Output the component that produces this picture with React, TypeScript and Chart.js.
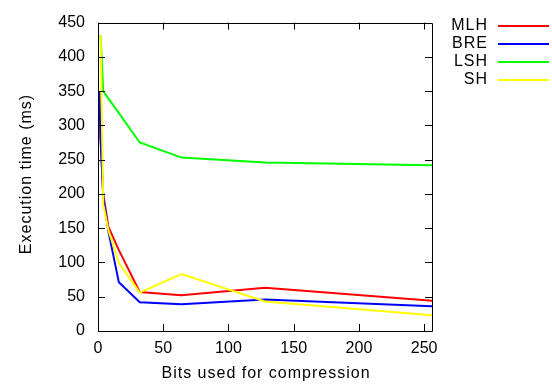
import React, { useEffect, useRef } from "react";
import { Chart, registerables } from "chart.js";

Chart.register(...registerables);

const bits = [1, 2, 4, 8, 16, 32, 64, 128, 256];
const seriesNames = ["MLH", "BRE", "LSH", "SH"];
const seriesColors = ["#ff0000", "#0000ff", "#00ff00", "#ffff00"];
const mlh = [350, 280, 200, 152, 118, 57, 52, 63, 44];
const bre = [350, 280, 195, 145, 71, 42, 39, 46, 36];
const lsh = [430, 430, 350, 339, 318, 275, 253, 246, 242];
const sh = [430, 430, 185, 147, 99, 56, 83, 43, 23];
const xTicks = [0, 50, 100, 150, 200, 250];
const yTicks = [0, 50, 100, 150, 200, 250, 300, 350, 400, 450];
const xTitle = "Bits used for compression";
const yTitle = "Execution time (ms)";

const FONT = "Liberation Sans, Arial, Helvetica, sans-serif";

const framePlugin = {
  id: "frame",
  afterDatasetsDraw(chart: any) {
    const { ctx, chartArea } = chart;
    const { left, right, top, bottom } = chartArea;
    const xs = chart.scales.x;
    const ys = chart.scales.y;
    ctx.save();
    ctx.strokeStyle = "#000";
    ctx.lineWidth = 1;
    ctx.beginPath();
    ctx.rect(Math.round(left) + 0.5, Math.round(top) + 0.5, Math.round(right - left), Math.round(bottom - top));
    ctx.stroke();
    const L = 7;
    ctx.beginPath();
    xTicks.forEach((v) => {
      const px = Math.round(xs.getPixelForValue(v)) + 0.5;
      ctx.moveTo(px, bottom);
      ctx.lineTo(px, bottom - L);
      ctx.moveTo(px, top);
      ctx.lineTo(px, top + L);
    });
    yTicks.forEach((v) => {
      const py = Math.round(ys.getPixelForValue(v)) + 0.5;
      ctx.moveTo(left, py);
      ctx.lineTo(left + L, py);
      ctx.moveTo(right, py);
      ctx.lineTo(right - L, py);
    });
    ctx.stroke();
    ctx.restore();
  },
  afterDraw(chart: any) {
    const { ctx, chartArea } = chart;
    ctx.save();
    ctx.font = `16px ${FONT}`;
    try {
      (ctx as any).letterSpacing = "1px";
    } catch (e) {}
    ctx.fillStyle = "#000";
    ctx.textBaseline = "middle";
    // axis titles
    ctx.textAlign = "center";
    ctx.fillText(xTitle, (chartArea.left + chartArea.right) / 2 + 1, 374);
    ctx.save();
    ctx.translate(27, 174);
    ctx.rotate(-Math.PI / 2);
    ctx.fillText(yTitle, 0, 0);
    ctx.restore();
    // legend
    ctx.textAlign = "right";
    const ys0 = [26, 43.5, 61.5, 79.5];
    seriesNames.forEach((name, i) => {
      const y = ys0[i];
      ctx.fillStyle = "#000";
      ctx.fillText(name, 488, y);
      ctx.strokeStyle = seriesColors[i];
      ctx.lineWidth = 2;
      ctx.beginPath();
      ctx.moveTo(498, Math.round(y));
      ctx.lineTo(549, Math.round(y));
      ctx.stroke();
    });
    ctx.restore();
  },
};

export default function App() {
  const ref = useRef<HTMLCanvasElement>(null);
  useEffect(() => {
    if (!ref.current) return;
    const all = [mlh, bre, lsh, sh];
    const chart = new Chart(ref.current, {
      type: "line",
      data: {
        datasets: all.map((vals, i) => ({
          label: seriesNames[i],
          data: bits.map((b, j) => ({ x: b, y: vals[j] })),
          borderColor: seriesColors[i],
          backgroundColor: seriesColors[i],
          borderWidth: 2,
          pointRadius: 0,
          tension: 0,
          fill: false,
          order: 3 - i,
        })),
      },
      options: {
        animation: false,
        responsive: false,
        maintainAspectRatio: false,
        layout: { padding: { top: 17, right: 120, left: 0, bottom: 0 } },
        plugins: { legend: { display: false }, tooltip: { enabled: false } },
        scales: {
          x: {
            type: "linear",
            min: 0,
            max: 256,
            grid: { display: false, drawTicks: false },
            border: { display: false },
            afterBuildTicks: (s: any) => {
              s.ticks = xTicks.map((v) => ({ value: v }));
            },
            afterFit: (s: any) => {
              s.height = 56;
            },
            ticks: { color: "#000", font: { family: FONT, size: 16 }, padding: 8, maxRotation: 0, autoSkip: false },
          },
          y: {
            type: "linear",
            min: 0,
            max: 450,
            grid: { display: false, drawTicks: false },
            border: { display: false },
            afterBuildTicks: (s: any) => {
              s.ticks = yTicks.map((v) => ({ value: v }));
            },
            afterFit: (s: any) => {
              s.width = 98;
            },
            ticks: { color: "#000", font: { family: FONT, size: 16 }, padding: 13, autoSkip: false },
          },
        },
      },
      plugins: [framePlugin],
    });
    return () => chart.destroy();
  }, []);
  return (
    <div style={{ position: "absolute", left: 0, top: 0, width: 552, height: 387, background: "#fff" }}>
      <canvas ref={ref} width={552} height={387} style={{ display: "block", width: 552, height: 387 }} />
    </div>
  );
}
